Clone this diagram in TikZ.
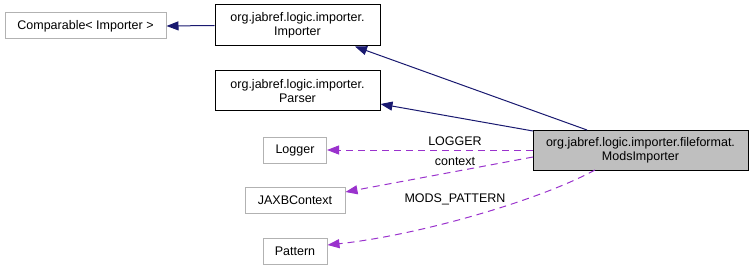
\documentclass[tikz,border=0pt]{standalone}
\usepackage{fontspec}
\setmainfont{Liberation Sans}
\usetikzlibrary{arrows.meta}
\definecolor{inherit}{HTML}{191970}
\definecolor{usage}{HTML}{9A32CD}
\definecolor{extbox}{HTML}{BFBFBF}
\begin{document}
\begin{tikzpicture}[x=1pt,y=-1pt,
  font=\fontsize{12.5}{14}\selectfont,
  every node/.style={inner sep=0pt, align=center},
  classbox/.style={draw=black, line width=1pt},
  extclass/.style={draw=black!30, line width=1pt},
  mainbox/.style={draw=black, line width=1pt, fill=extbox},
  inh/.style={draw=inherit, line width=1pt, -{Triangle[length=12pt,width=9pt]}},
  use/.style={draw=usage, line width=1pt, dash pattern=on 7pt off 5pt, -{Triangle[length=12pt,width=9pt]}},
  lbl/.style={font=\fontsize{12.5}{14}\selectfont}]
\useasboundingbox (0,0) rectangle (753,270);

\node[extclass, minimum width=161pt, minimum height=26pt] (cmp) at (85.5,26) {Comparable< Importer >};
\node[classbox, minimum width=165pt, minimum height=41pt] (imp) at (297.5,25.5) {org.jabref.logic.importer.\\Importer};
\node[classbox, minimum width=165pt, minimum height=40pt] (par) at (297.5,91) {org.jabref.logic.importer.\\Parser};
\node[extclass, minimum width=63pt, minimum height=26pt] (log) at (295,150) {Logger};
\node[extclass, minimum width=100pt, minimum height=26pt] (jaxb) at (295,200) {JAXBContext};
\node[extclass, minimum width=64pt, minimum height=26pt] (pat) at (295,251) {Pattern};
\node[mainbox, minimum width=215pt, minimum height=40pt] (mods) at (640.5,150) {org.jabref.logic.importer.fileformat.\\ModsImporter};

\coordinate (modsT) at (587,130);
\coordinate (modsL1) at (533,131);
\coordinate (modsL2) at (533,157);
\coordinate (modsB) at (595,170);

\draw[inh] (imp.west) -- (cmp.east);
\draw[inh] (modsT) -- (imp.south -| 355,0);
\draw[inh] (modsL1) -- (par.east |- 0,104);
\draw[use] (mods.west) -- (log.east);
\node[lbl] (lg) at (455,141) {LOGGER};
\draw[use] (modsL2) -- (jaxb.east |- 0,192);
\node[lbl] (ctx) at (455,162) {context};
\draw[use] (modsB) .. controls (540,200) and (420,235) .. (pat.east |- 0,245);
\node[lbl] (mp) at (455,199) {MODS\_PATTERN};
\end{tikzpicture}
\end{document}
